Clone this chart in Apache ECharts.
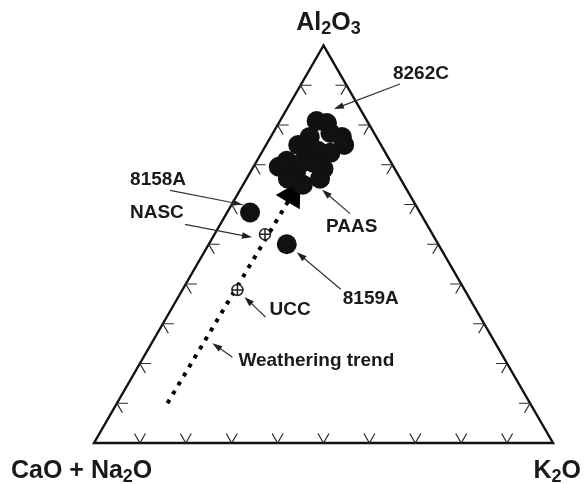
<!DOCTYPE html>
<html>
<head>
<meta charset="utf-8">
<title>A-CN-K ternary diagram</title>
<script src="https://cdn.jsdelivr.net/npm/echarts@6/dist/echarts.min.js"></script>
<style>
  html, body { margin: 0; padding: 0; background: #fff; }
  #chart { width: 584px; height: 484px; }
</style>
</head>
<body>
<div id="chart"></div>
<script>
// A–CN–K compositions in molar %, each triple sums to 100.
// Sediment samples (filled circles); '' = unlabelled sample
const sampleIds     = ['', '8262C', '', '', '', '', '', '', '', 'PAAS', '', '', '', '', '', '', '', '', '', '8158A', '8159A'];
const sampleAl2O3   = [81, 80.5, 77, 75, 75, 77, 69.5, 71, 69, 66.5, 73, 68, 65, 73.5, 73, 78, 70.5, 70.5, 66.5, 58, 50];
const sampleCaONa2O = [11, 9, 7.5, 8, 18, 14.5, 25, 22.5, 15.5, 17.5, 17, 22, 22, 14.5, 12, 9.5, 19.5, 17, 24.5, 37, 33];
const sampleK2O     = [8, 10.5, 15.5, 17, 7, 8.5, 5.5, 6.5, 15.5, 16, 10, 10, 13, 12, 15, 12.5, 10, 12.5, 9, 5, 17];

// Reference compositions (crossed circles)
const standardIds     = ['NASC', 'UCC'];
const standardAl2O3   = [52.5, 38.5];
const standardCaONa2O = [36.5, 49.5];
const standardK2O     = [11, 12];

// Weathering trend, start -> arrow tip
const trendAl2O3   = [10, 66];
const trendCaONa2O = [79, 22];
const trendK2O     = [11, 12];

// Tick positions along every edge, %
const edgeTicks = [10, 20, 30, 40, 50, 60, 70, 80, 90];

// Callout geometry in pixels, relative to the labelled point
const callouts = {
  '8262C': { tip: [7, -14],  tail: [73, -39],  text: [66, -49] },
  '8158A': { tip: [-8, -8],  tail: [-80, -22], text: [-120, -33] },
  'NASC':  { tip: [-13, 3],  tail: [-80, -10], text: [-135, -22] },
  'PAAS':  { tip: [2, 11],   tail: [30, 35],   text: [6, 48] },
  '8159A': { tip: [10, 8],   tail: [54, 45],   text: [56, 55] },
  'UCC':   { tip: [7, 7],    tail: [28, 27],   text: [32, 20] }
};
const trendCallout = { label: 'Weathering trend', along: 0.27, tip: [9, 0], tail: [29, 14], text: [35, 18] };

const SQ3_2 = Math.sqrt(3) / 2;
// Ternary (Al2O3, CaO+Na2O, K2O) -> cartesian, CN at origin, K2O at (1,0), Al2O3 at top
function toXY(a, cn, k) {
  const s = a + cn + k;
  return [(k + a / 2) / s, (a / s) * SQ3_2];
}

const LABEL_FONT = 'bold 19px "Liberation Sans", Arial, Helvetica, sans-serif';
const INK = '#1a1a1a';

const samplePts = sampleAl2O3.map((a, i) => toXY(a, sampleCaONa2O[i], sampleK2O[i]));
const standardPts = standardAl2O3.map((a, i) => toXY(a, standardCaONa2O[i], standardK2O[i]));
const trendPts = trendAl2O3.map((a, i) => toXY(a, trendCaONa2O[i], trendK2O[i]));

// Callout list: [x, y] of the target plus its label/geometry
const calloutItems = [];
sampleIds.forEach((id, i) => { if (callouts[id]) calloutItems.push({ label: id, pt: samplePts[i], g: callouts[id] }); });
standardIds.forEach((id, i) => { if (callouts[id]) calloutItems.push({ label: id, pt: standardPts[i], g: callouts[id] }); });
{
  const t = trendCallout.along;
  const p = [trendPts[0][0] + t * (trendPts[1][0] - trendPts[0][0]),
             trendPts[0][1] + t * (trendPts[1][1] - trendPts[0][1])];
  calloutItems.push({ label: trendCallout.label, pt: p, g: trendCallout });
}

function unit(dx, dy) { const l = Math.hypot(dx, dy); return [dx / l, dy / l]; }

const richVertex = {
  n: { fontSize: 25, fontWeight: 'bold', fontFamily: '"Liberation Sans", Arial, sans-serif', color: INK, lineHeight: 30, verticalAlign: 'middle' },
  s: { fontSize: 18, fontWeight: 'bold', fontFamily: '"Liberation Sans", Arial, sans-serif', color: INK, lineHeight: 12, verticalAlign: 'bottom' }
};

function vertexLabel(text, x, y, align) {
  return {
    type: 'text',
    style: { text: text, rich: richVertex, x: x, y: y, align: align, textAlign: align, verticalAlign: 'middle', textVerticalAlign: 'middle', fill: INK }
  };
}

function renderFrame(params, api) {
  const A = api.coord(toXY(100, 0, 0));
  const C = api.coord(toXY(0, 100, 0));
  const K = api.coord(toXY(0, 0, 100));
  const children = [{
    type: 'polygon',
    shape: { points: [A, C, K] },
    style: { fill: 'none', stroke: '#111', lineWidth: 2.4, lineJoin: 'miter' }
  }];
  // chevron ticks: vertex on the edge, arms parallel to the other two edges
  const L = 11;
  [[C, K, A], [K, A, C], [A, C, K]].forEach(([P, Q, R]) => {
    const u1 = unit(R[0] - P[0], R[1] - P[1]);
    const u2 = unit(R[0] - Q[0], R[1] - Q[1]);
    edgeTicks.forEach(t => {
      const f = t / 100;
      const V = [P[0] + f * (Q[0] - P[0]), P[1] + f * (Q[1] - P[1])];
      children.push({
        type: 'polyline',
        shape: { points: [[V[0] + L * u1[0], V[1] + L * u1[1]], V, [V[0] + L * u2[0], V[1] + L * u2[1]]] },
        style: { fill: 'none', stroke: '#2a2a2a', lineWidth: 1.2 }
      });
    });
  });
  children.push(vertexLabel('{n|Al}{s|2}{n|O}{s|3}', A[0] + 5, A[1] - 22, 'center'));
  children.push(vertexLabel('{n|CaO + Na}{s|2}{n|O}', C[0] - 83, C[1] + 28, 'left'));
  children.push(vertexLabel('{n|K}{s|2}{n|O}', K[0] + 28, K[1] + 28, 'right'));
  return { type: 'group', children: children };
}

function renderTrend(params, api) {
  const p0 = api.coord([api.value(0), api.value(1)]);
  const p1 = api.coord([api.value(2), api.value(3)]);
  const u = unit(p1[0] - p0[0], p1[1] - p0[1]);
  const n = [-u[1], u[0]];
  const h = 25, w = 14;
  const base = [p1[0] - h * u[0], p1[1] - h * u[1]];
  return {
    type: 'group',
    children: [{
      type: 'line',
      shape: { x1: p0[0], y1: p0[1], x2: base[0] + 4 * u[0], y2: base[1] + 4 * u[1] },
      style: { stroke: '#000', lineWidth: 4, lineDash: [4, 6.5], lineCap: 'butt' }
    }, {
      type: 'polygon',
      shape: { points: [p1, [base[0] + w * n[0], base[1] + w * n[1]], [base[0] - w * n[0], base[1] - w * n[1]]] },
      style: { fill: '#000' }
    }]
  };
}

function renderCallout(params, api) {
  const item = calloutItems[params.dataIndex];
  const p = api.coord([api.value(0), api.value(1)]);
  const g = item.g;
  const T = [p[0] + g.tip[0], p[1] + g.tip[1]];
  const S = [p[0] + g.tail[0], p[1] + g.tail[1]];
  const u = unit(T[0] - S[0], T[1] - S[1]);
  const nrm = [-u[1], u[0]];
  const h = 10, w = 3.3;
  const base = [T[0] - h * u[0], T[1] - h * u[1]];
  return {
    type: 'group',
    children: [{
      type: 'line',
      shape: { x1: S[0], y1: S[1], x2: base[0] + u[0], y2: base[1] + u[1] },
      style: { stroke: '#333', lineWidth: 1.2 }
    }, {
      type: 'polygon',
      shape: { points: [T, [base[0] + w * nrm[0], base[1] + w * nrm[1]], [base[0] - w * nrm[0], base[1] - w * nrm[1]]] },
      style: { fill: '#222' }
    }, {
      type: 'text',
      style: {
        text: item.label, x: p[0] + g.text[0], y: p[1] + g.text[1],
        font: LABEL_FONT, fill: INK,
        align: 'left', textAlign: 'left', verticalAlign: 'middle', textVerticalAlign: 'middle'
      }
    }]
  };
}

const chart = echarts.init(document.getElementById('chart'), null, { renderer: 'canvas' });
chart.setOption({
  animation: false,
  backgroundColor: '#ffffff',
  grid: { left: 94, top: 45.5, width: 459, height: 397.5 },
  xAxis: { type: 'value', min: 0, max: 1, show: false },
  yAxis: { type: 'value', min: 0, max: SQ3_2, show: false },
  series: [
    {
      type: 'custom', name: 'frame', coordinateSystem: 'cartesian2d', clip: false, z: 1, silent: true,
      renderItem: renderFrame, data: [[0, 0]]
    },
    {
      type: 'custom', name: 'Weathering trend', coordinateSystem: 'cartesian2d', clip: false, z: 2, silent: true,
      renderItem: renderTrend, encode: { x: [0, 2], y: [1, 3] },
      data: [[trendPts[0][0], trendPts[0][1], trendPts[1][0], trendPts[1][1]]]
    },
    {
      type: 'scatter', name: 'Samples', z: 3, silent: true,
      symbol: 'circle', symbolSize: 20,
      itemStyle: { color: '#111', opacity: 1 },
      data: samplePts
    },
    {
      type: 'scatter', name: 'Standards', z: 4, silent: true,
      symbol: 'path://M0,10A10,10,0,1,1,20,10A10,10,0,1,1,0,10ZM10,0L10,20M0,10L20,10',
      symbolSize: 11,
      itemStyle: { color: '#fff', borderColor: '#222', borderWidth: 1.5, opacity: 1 },
      data: standardPts
    },
    {
      type: 'custom', name: 'callouts', coordinateSystem: 'cartesian2d', clip: false, z: 5, silent: true,
      renderItem: renderCallout,
      data: calloutItems.map(c => [c.pt[0], c.pt[1]])
    }
  ]
});
</script>
</body>
</html>
